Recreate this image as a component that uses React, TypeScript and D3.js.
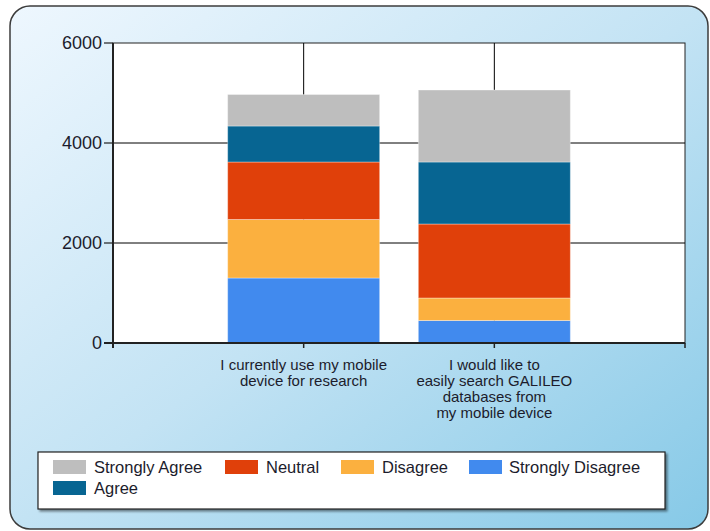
import React from "react";
import * as d3 from "d3";

const categories: string[][] = [
  ["I currently use my mobile", "device for research"],
  ["I would like to", "easily search GALILEO", "databases from", "my mobile device"],
];
const seriesNames = ["Strongly Disagree", "Disagree", "Neutral", "Agree", "Strongly Agree"];
const stronglyDisagree = [1300, 450];
const disagree = [1170, 450];
const neutral = [1150, 1480];
const agree = [720, 1240];
const stronglyAgree = [630, 1440];
const yTicks = [0, 2000, 4000, 6000];
const legendOrder = ["Strongly Agree", "Neutral", "Disagree", "Strongly Disagree", "Agree"];

const colors: Record<string, string> = {
  "Strongly Agree": "#bebebe",
  Agree: "#076592",
  Neutral: "#e0400a",
  Disagree: "#fbb03f",
  "Strongly Disagree": "#418aee",
};

const FONT = "'Liberation Sans', Arial, sans-serif";
const TEXT = "#1c1c2c";

export default function App() {
  const W = 710, H = 531;
  const left = 113, right = 685, top = 43, bottom = 343;
  const x = d3.scaleLinear().domain([0, 3]).range([left, right]);
  const y = d3.scaleLinear().domain([0, 6000]).range([bottom, top]);
  const barW = 152;

  const table = categories.map((c, i) => ({
    idx: i,
    "Strongly Disagree": stronglyDisagree[i],
    Disagree: disagree[i],
    Neutral: neutral[i],
    Agree: agree[i],
    "Strongly Agree": stronglyAgree[i],
  }));
  const stack = d3.stack<any>().keys(seriesNames)(table);

  const legendPos = [
    { sx: 53, sy: 460, tx: 94 },
    { sx: 225, sy: 460, tx: 266 },
    { sx: 341, sy: 460, tx: 382 },
    { sx: 469, sy: 460, tx: 509 },
    { sx: 53, sy: 481, tx: 94 },
  ];

  return (
    <svg
      width={W}
      height={H}
      style={{ position: "absolute", left: 0, top: 0 }}
      fontFamily={FONT}
    >
      <defs>
        <linearGradient id="bg" x1="0" y1="0" x2="1" y2="1">
          <stop offset="0" stopColor="#eef7fe" />
          <stop offset="0.5" stopColor="#c3e3f4" />
          <stop offset="1" stopColor="#86c9e7" />
        </linearGradient>
        <filter id="sh" x="-5%" y="-5%" width="110%" height="120%">
          <feDropShadow dx="2" dy="2" stdDeviation="1" floodColor="#000" floodOpacity="0.45" />
        </filter>
      </defs>
      <rect x={10} y={6} width={698} height={523} rx={20} ry={20} fill="url(#bg)" stroke="#3c3c3c" strokeWidth={1.5} />

      {/* plot area */}
      <rect x={left} y={top} width={right - left} height={bottom - top} fill="#fff" stroke="#222" strokeWidth={1} />

      {/* gridlines */}
      {yTicks.filter((t) => t > 0 && t < 6000).map((t) => (
        <line key={t} x1={left} x2={right} y1={y(t)} y2={y(t)} stroke="#000" strokeWidth={1} />
      ))}
      {categories.map((_, i) => (
        <line key={i} x1={x(i + 1)} x2={x(i + 1)} y1={top} y2={bottom} stroke="#000" strokeWidth={1} />
      ))}

      {/* bars */}
      {stack.map((s) =>
        s.map((d, i) => (
          <rect
            key={s.key + i}
            x={x(i + 1) - barW / 2}
            y={y(d[1])}
            width={barW}
            height={y(d[0]) - y(d[1])}
            fill={colors[s.key]}
            stroke="rgba(255,255,255,0.35)"
            strokeWidth={1}
          />
        ))
      )}

      {/* axes */}
      <line x1={left} x2={left} y1={top} y2={bottom + 5} stroke="#222" strokeWidth={2} />
      <line x1={left - 9} x2={right} y1={bottom} y2={bottom} stroke="#222" strokeWidth={2} />
      {yTicks.map((t) => (
        <g key={t}>
          <line x1={left - 9} x2={left} y1={y(t)} y2={y(t)} stroke="#222" strokeWidth={1.2} />
          <text x={left - 11} y={y(t)} dy="0.36em" textAnchor="end" fontSize={18} fill={TEXT}>
            {t}
          </text>
        </g>
      ))}
      {[0, 1, 2, 3].map((t) => (
        <line key={t} x1={x(t)} x2={x(t)} y1={bottom} y2={bottom + 5} stroke="#222" strokeWidth={1.5} />
      ))}
      {categories.map((lines, i) => (
        <text key={i} x={x(i + 1)} textAnchor="middle" fontSize={15} fill={TEXT}>
          {lines.map((l, j) => (
            <tspan key={j} x={x(i + 1)} y={370 + j * 16}>
              {l}
            </tspan>
          ))}
        </text>
      ))}

      {/* legend */}
      <rect x={38} y={452} width={627} height={57} fill="#fff" stroke="#222" strokeWidth={1.2} filter="url(#sh)" />
      {legendOrder.map((k, i) => (
        <g key={k}>
          <rect x={legendPos[i].sx} y={legendPos[i].sy} width={33} height={14} fill={colors[k]} />
          <text x={legendPos[i].tx} y={legendPos[i].sy + 13} fontSize={16.5} fill={TEXT}>
            {k}
          </text>
        </g>
      ))}
    </svg>
  );
}
